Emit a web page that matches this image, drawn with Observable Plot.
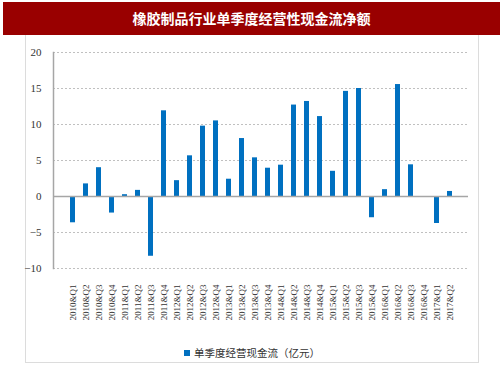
<!DOCTYPE html>
<html><head><meta charset="utf-8">
<script src="https://cdn.jsdelivr.net/npm/d3@7"></script>
<script src="https://cdn.jsdelivr.net/npm/@observablehq/plot@0.6"></script>
<style>
body{margin:0;background:#fff;width:503px;height:378px;overflow:hidden;position:relative;}
#title{position:absolute;left:3px;top:2px;width:497px;height:33px;background:#990000;color:#fff;font:bold 14px "Noto Sans CJK SC",sans-serif;text-align:center;line-height:33px;}
#frame{position:absolute;left:25px;top:35px;width:454px;height:328px;border:1px solid #dcdcdc;border-top:none;box-sizing:border-box;}
#chart{position:absolute;left:0;top:36px;}
#legend{position:absolute;left:184px;top:345px;font:10.5px "Noto Sans CJK SC",sans-serif;color:#333;display:flex;align-items:center;}
#legend span.sw{display:inline-block;width:6px;height:6px;background:#0070c0;margin-right:4px;}
</style></head>
<body>
<div id="title">橡胶制品行业单季度经营性现金流净额</div>
<div id="frame"></div>
<div id="chart"></div>
<div id="legend"><span class="sw"></span>单季度经营现金流（亿元）</div>
<script>
const quarters = ["2010&Q1","2010&Q2","2010&Q3","2010&Q4","2011&Q1","2011&Q2","2011&Q3","2011&Q4","2012&Q1","2012&Q2","2012&Q3","2012&Q4","2013&Q1","2013&Q2","2013&Q3","2013&Q4","2014&Q1","2014&Q2","2014&Q3","2014&Q4","2015&Q1","2015&Q2","2015&Q3","2015&Q4","2016&Q1","2016&Q2","2016&Q3","2016&Q4","2017&Q1","2017&Q2"];
const cashFlow = [-3.65,1.75,4.0,-2.3,0.25,0.85,-8.3,11.9,2.2,5.65,9.77,10.5,2.4,8.05,5.37,3.93,4.35,12.7,13.2,11.1,3.5,14.6,15.0,-2.95,0.95,15.55,4.4,-0.1,-3.75,0.7];
const yTicks = [-10,-5,0,5,10,15,20];
const gridTicks = [-10,-5,5,10,15,20];

const data = quarters.map((q,i)=>({q, v: cashFlow[i]}));

const chart = Plot.plot({
  width: 503,
  height: 290,
  marginTop: 16,
  marginBottom: 58,
  marginLeft: 53,
  marginRight: 35,
  style: {fontFamily: '"Liberation Serif", serif', color: "#333", background: "transparent"},
  x: {domain: quarters, padding: 0.62, align: 0.5},
  y: {domain: [-10, 20]},
  marks: [
    Plot.ruleY(gridTicks, {stroke: "#c0c0c0", strokeDasharray: "2,2", strokeWidth: 1}),
    Plot.barY(data, {x: "q", y: "v", fill: "#0070c0"}),
    Plot.ruleY([0], {stroke: "#a6a6a6", strokeWidth: 1.5}),
    Plot.frame({anchor: "left", stroke: "#a6a6a6", strokeWidth: 1.5}),
    Plot.axisY({ticks: yTicks, tickSize: 0, tickPadding: 12, fontSize: 11, label: null}),
    Plot.axisX({tickSize: 0, tickPadding: 16, tickRotate: -90, fontSize: 9, label: null})
  ]
});
document.getElementById("chart").appendChild(chart);
</script>
</body></html>
